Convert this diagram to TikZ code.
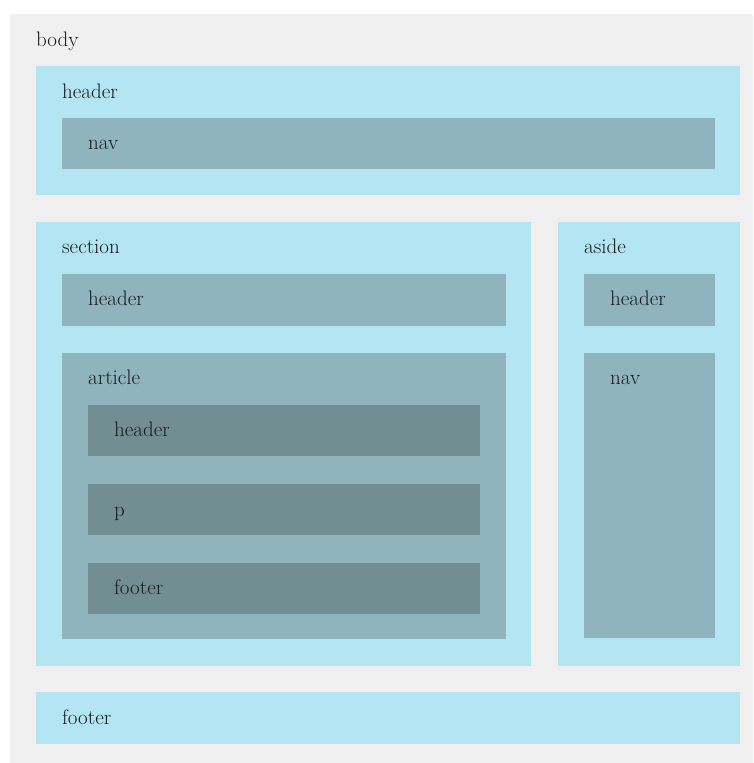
\documentclass[tikz,border=0pt]{standalone}
\definecolor{pagebg}{RGB}{240,240,240}
\definecolor{lvlone}{RGB}{179,229,242}
\definecolor{lvltwo}{RGB}{143,180,190}
\definecolor{lvlthree}{RGB}{114,142,147}
\definecolor{labelink}{RGB}{24,26,28}
\tikzset{
  blockbox/.style={fill=#1, draw=none},
  blocklabel/.style={anchor=base west, inner sep=0pt, text=labelink,
    font=\rmfamily\fontsize{21}{25}\selectfont}
}
\begin{document}
\begin{tikzpicture}[x=1pt,y=-1pt]
\useasboundingbox (0,0) rectangle (753,763);
\fill[white] (0,0) rectangle (753,763);

% body
\fill[blockbox=pagebg] (10,14) rectangle (753,763);
\node[blocklabel] (lbody) at (36,46) {body};

% page header with its nav
\fill[blockbox=lvlone] (36,66) rectangle (740,195);
\node[blocklabel] (lheader) at (62,98) {header};
\fill[blockbox=lvltwo] (62,118) rectangle (715,169);
\node[blocklabel] (lnav) at (88,149) {nav};

% section
\fill[blockbox=lvlone] (36,222) rectangle (531,666);
\node[blocklabel] (lsection) at (62,253) {section};
\fill[blockbox=lvltwo] (62,274) rectangle (506,326);
\node[blocklabel] (lsecheader) at (88,305) {header};

% article inside the section
\fill[blockbox=lvltwo] (62,353) rectangle (506,639);
\node[blocklabel] (larticle) at (88,384) {article};
\fill[blockbox=lvlthree] (88,405) rectangle (480,456);
\node[blocklabel] (lartheader) at (114,436) {header};
\fill[blockbox=lvlthree] (88,484) rectangle (480,535);
\node[blocklabel] (lp) at (114,516) {p};
\fill[blockbox=lvlthree] (88,563) rectangle (480,614);
\node[blocklabel] (lartfooter) at (114,594) {footer};

% aside
\fill[blockbox=lvlone] (558,222) rectangle (740,666);
\node[blocklabel] (laside) at (584,253) {aside};
\fill[blockbox=lvltwo] (584,274) rectangle (715,326);
\node[blocklabel] (lasideheader) at (610,305) {header};
\fill[blockbox=lvltwo] (584,353) rectangle (715,638);
\node[blocklabel] (lasidenav) at (610,384) {nav};

% page footer
\fill[blockbox=lvlone] (36,692) rectangle (740,744);
\node[blocklabel] (lfooter) at (62,724) {footer};
\end{tikzpicture}
\end{document}
